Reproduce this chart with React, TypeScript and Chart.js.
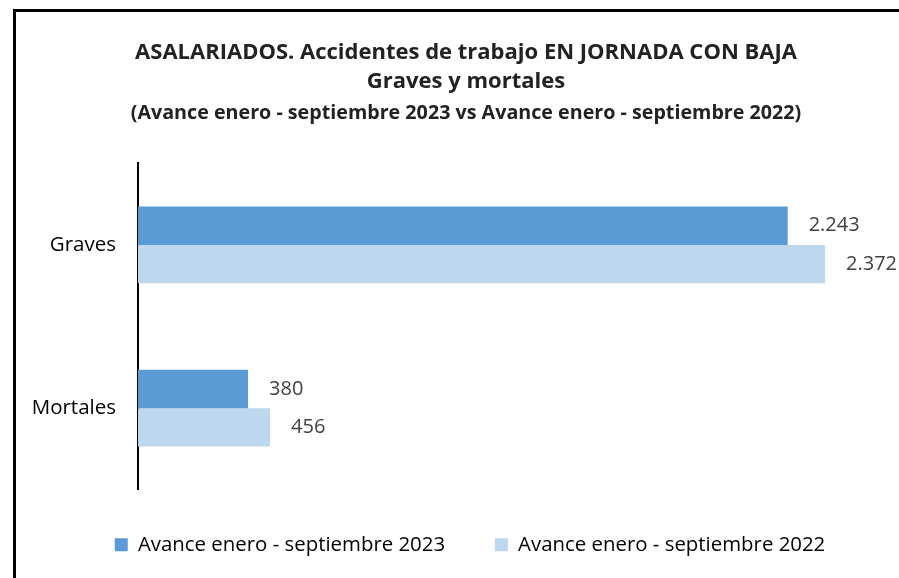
import React, { useEffect, useRef } from "react";
import { Chart, registerables } from "chart.js";

Chart.register(...registerables);

const titleLines = [
  "ASALARIADOS. Accidentes de trabajo EN JORNADA CON BAJA",
  "Graves y mortales",
];
const subtitleText = "(Avance enero - septiembre 2023 vs Avance enero - septiembre 2022)";
const categories = ["Graves", "Mortales"];
const seriesNames = ["Avance enero - septiembre 2023", "Avance enero - septiembre 2022"];
const values2023 = [2243, 380];
const values2022 = [2372, 456];
const xMax = 2686;

const FONT = "'Open Sans', 'DejaVu Sans', sans-serif";

const fmt = (v: number) => String(v).replace(/\B(?=(\d{3})+(?!\d))/g, ".");

const valueLabels = {
  id: "valueLabels",
  afterDatasetsDraw(chart: any) {
    const ctx = chart.ctx;
    ctx.save();
    ctx.font = `20px ${FONT}`;
    ctx.fillStyle = "#404040";
    ctx.textAlign = "left";
    ctx.textBaseline = "middle";
    chart.data.datasets.forEach((ds: any, di: number) => {
      const meta = chart.getDatasetMeta(di);
      meta.data.forEach((bar: any, i: number) => {
        ctx.fillText(fmt(ds.data[i]), bar.x + 21, bar.y);
      });
    });
    ctx.restore();
  },
};

const legendShift = {
  id: "legendShift",
  afterLayout(chart: any) {
    const lg = chart.legend;
    if (lg) {
      lg.top -= 5;
      lg.bottom -= 5;
      lg.left += 4;
      lg.right += 4;
    }
  },
};

export default function App() {
  const ref = useRef<HTMLCanvasElement>(null);
  useEffect(() => {
    const chart = new Chart(ref.current!, {
      type: "bar",
      data: {
        labels: categories,
        datasets: [
          {
            label: seriesNames[0],
            data: values2023,
            backgroundColor: "#5B9BD5",
            barPercentage: 1,
            categoryPercentage: 0.47,
          },
          {
            label: seriesNames[1],
            data: values2022,
            backgroundColor: "#BDD7EE",
            barPercentage: 1,
            categoryPercentage: 0.47,
          },
        ],
      },
      options: {
        indexAxis: "y",
        animation: false,
        responsive: false,
        layout: { padding: { left: 0, right: 0, top: 0, bottom: 0 } },
        scales: {
          x: { display: false, min: 0, max: xMax },
          y: {
            grid: { display: false, drawTicks: false },
            border: { display: true, color: "#000", width: 2 },
            ticks: { color: "#000", padding: 22, font: { family: FONT, size: 20.5 } },
            afterFit(scale: any) {
              scale.width = 122;
            },
          },
        },
        plugins: {
          title: {
            display: true,
            text: titleLines,
            color: "#222",
            font: { family: FONT, size: 22, weight: "bold", lineHeight: 29 / 22 },
            padding: { top: 26, bottom: 0 },
          },
          subtitle: {
            display: true,
            text: subtitleText,
            color: "#222",
            font: { family: FONT, size: 19.7, weight: "bold", lineHeight: 1.2 },
            padding: { top: 5.3, bottom: 38.3 },
          },
          legend: {
            position: "bottom",
            labels: {
              color: "#000",
              boxWidth: 13,
              boxHeight: 13,
              padding: 49.8,
              font: { family: FONT, size: 20.4 },
            },
          },
          tooltip: { enabled: false },
        },
      },
      plugins: [valueLabels, legendShift],
    });
    return () => chart.destroy();
  }, []);
  return (
    <div
      style={{
        position: "fixed",
        left: 13,
        top: 9,
        width: 886,
        height: 569,
        overflow: "hidden",
        borderTop: "3px solid #000",
        borderLeft: "3px solid #000",
        boxSizing: "border-box",
        background: "#fff",
      }}
    >
      <canvas ref={ref} width={900} height={558} style={{ display: "block" }} />
    </div>
  );
}
